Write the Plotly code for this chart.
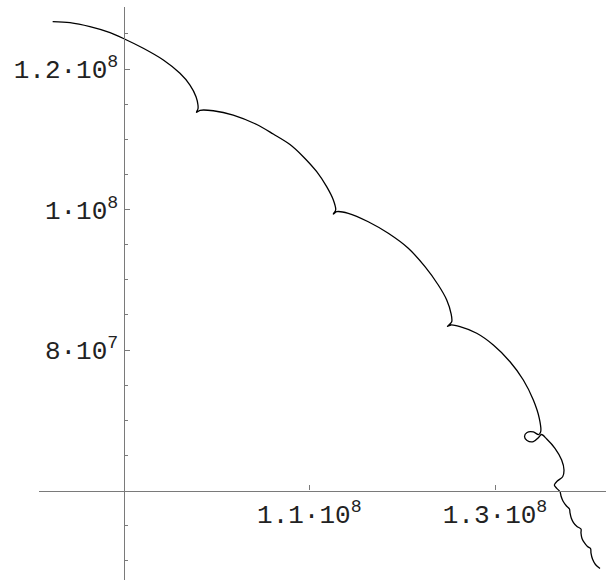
import plotly.graph_objects as go

# Path of the Moon around the Sun (units of 10^6 km), traced along the orbit
x_mkm = [82.36, 84.23, 86.38, 88.54, 90.04, 92.12, 94.28, 96.07, 97.15, 97.80, 98.01, 98.01, 97.85,
         98.23, 99.66, 101.81, 104.34, 106.12, 107.92, 109.35, 110.80, 111.87, 112.59, 112.84, 112.59,
         112.95, 114.20, 116.35, 118.51, 120.66, 122.46, 123.89, 124.80, 125.26, 125.34, 124.88,
         125.26, 126.23, 128.03, 129.82, 131.62, 133.05, 134.13, 134.77, 134.92,
         134.69, 134.13, 133.45, 133.18, 133.45, 134.13, 134.69, 135.01,
         135.57, 136.46, 137.18, 137.43, 137.29, 136.71, 136.39, 136.65, 137.00,
         137.11, 137.32, 137.70, 138.02,
         138.08, 138.21, 138.45, 138.83, 139.26,
         139.26, 139.37, 139.64, 139.96, 140.29,
         140.34, 140.50, 140.82, 141.31]
y_mkm = [126.73, 126.59, 126.02, 125.17, 124.31, 122.95, 121.28, 119.39, 117.72, 116.06, 114.88, 114.31, 113.84,
         114.12, 114.06, 113.45, 112.10, 110.74, 109.25, 107.52, 105.38, 103.25, 101.35, 99.93, 99.36,
         99.69, 99.46, 98.26, 96.61, 94.48, 91.86, 89.25, 87.12, 85.22, 84.03, 83.37,
         83.56, 83.32, 82.38, 80.71, 78.33, 75.73, 72.88, 70.28, 68.37,
         67.97, 68.33, 68.26, 67.69, 67.12, 66.95, 67.54, 67.97,
         67.33, 66.01, 64.34, 62.92, 61.96, 61.35, 60.78, 60.31, 59.83,
         59.22, 58.51, 57.79, 57.37,
         56.80, 56.09, 55.44, 54.88, 54.52,
         53.95, 53.17, 52.53, 52.03, 51.74,
         51.10, 50.25, 49.47, 48.90]

x_tick_vals = [1.1e8, 1.3e8]
x_tick_text = ["1.1·10<sup>8</sup>", "1.3·10<sup>8</sup>"]
y_tick_vals = [8e7, 1e8, 1.2e8]
y_tick_text = ["8·10<sup>7</sup>", "1·10<sup>8</sup>", "1.2·10<sup>8</sup>"]
y_minor_vals = [5e7, 5.5e7, 6.5e7, 7e7, 7.5e7, 8.5e7, 9e7, 9.5e7, 1.05e8, 1.1e8, 1.15e8, 1.25e8]

x_range = [8.0889e7, 14.1955e7]
y_range = [4.726e7, 12.8826e7]
x_cross = 9e7   # where the vertical axis sits
y_cross = 6e7   # where the horizontal axis sits

xs = [v * 1e6 for v in x_mkm]
ys = [v * 1e6 for v in y_mkm]

fig = go.Figure()
fig.add_trace(go.Scatter(
    x=xs, y=ys, mode="lines",
    line=dict(color="black", width=1.3, shape="spline", smoothing=0.9),
    hoverinfo="skip", showlegend=False,
))

tick_font = dict(family="Liberation Mono, DejaVu Sans Mono, monospace", size=26, color="#222")
axis_col = "#7a7a7a"

fig.update_layout(
    width=606, height=582,
    margin=dict(l=39, r=0, t=7, b=2, autoexpand=False),
    paper_bgcolor="white", plot_bgcolor="white",
    xaxis=dict(
        range=x_range, anchor="free",
        position=(y_cross - y_range[0]) / (y_range[1] - y_range[0]),
        showgrid=False, zeroline=False, showline=True,
        linecolor=axis_col, linewidth=1.3,
        tickmode="array", tickvals=x_tick_vals, ticktext=x_tick_text,
        ticks="inside", ticklen=5, tickwidth=1, tickcolor=axis_col,
        tickfont=tick_font, automargin=False,
    ),
    yaxis=dict(
        range=y_range, anchor="free",
        position=(x_cross - x_range[0]) / (x_range[1] - x_range[0]),
        showgrid=False, zeroline=False, showline=True,
        linecolor=axis_col, linewidth=1.3,
        tickmode="array", tickvals=y_tick_vals, ticktext=y_tick_text,
        ticks="inside", ticklen=5, tickwidth=1, tickcolor=axis_col,
        minor=dict(tickmode="array", tickvals=y_minor_vals, ticks="inside",
                   ticklen=3, tickwidth=1, tickcolor=axis_col, showgrid=False),
        tickfont=tick_font, automargin=False,
    ),
)

fig.write_html("out.html")
